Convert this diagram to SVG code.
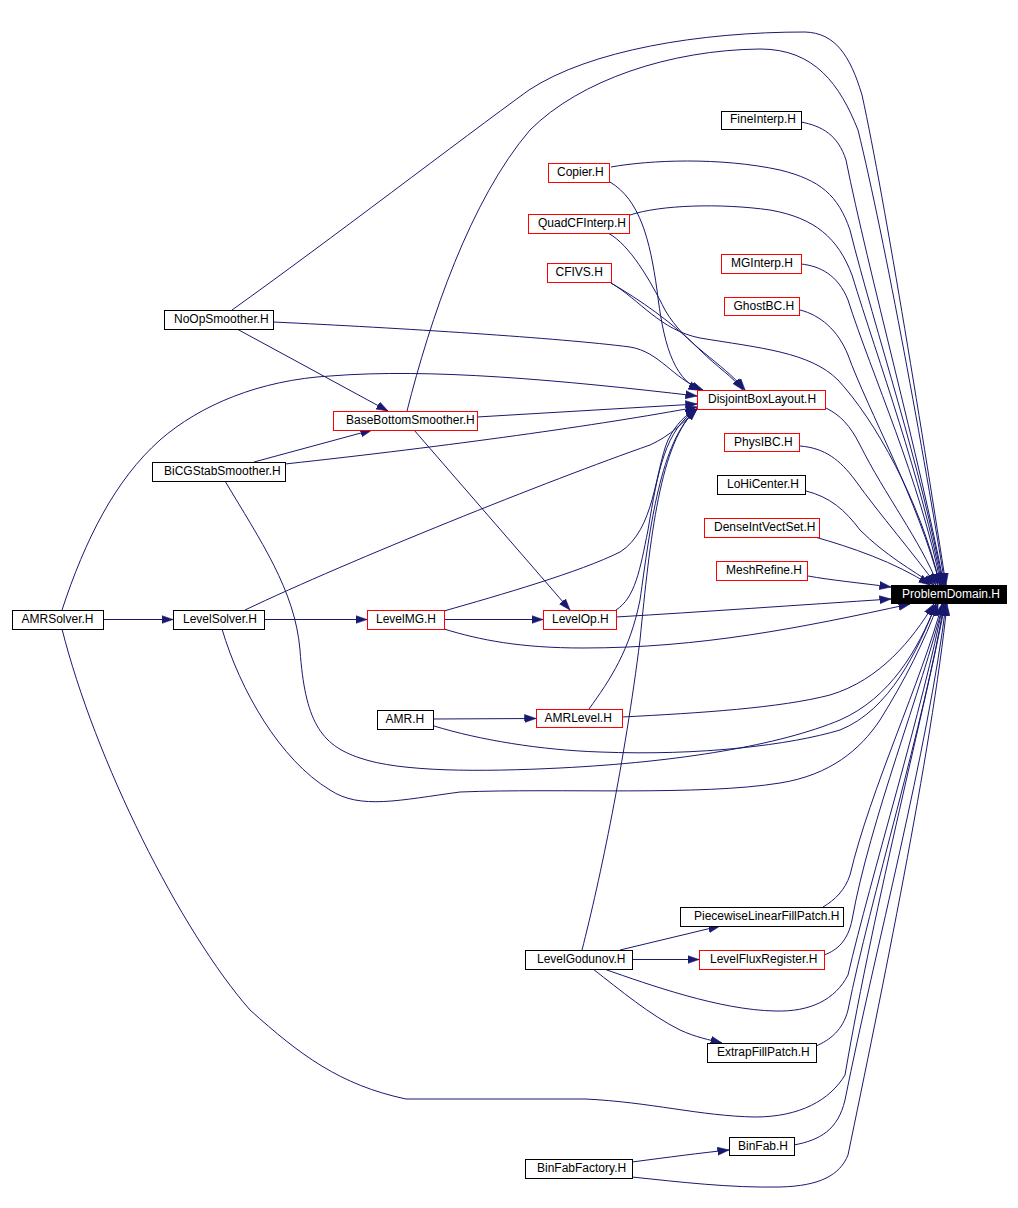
<svg xmlns="http://www.w3.org/2000/svg" width="1018" height="1208" viewBox="0 0 1018 1208">
<style>
.bg{fill:#ffffff}
.n rect{fill:#ffffff;stroke:#000000;stroke-width:1}
.n.r rect{stroke:#ff0000}
.n text{font-family:"Liberation Sans",Arial,sans-serif;font-size:12px;fill:#000000}
.n.root rect{fill:#000000;stroke:#000000}
.n.root text{fill:#ffffff}
.e path{fill:none;stroke:#191970;stroke-width:1;marker-end:url(#ah)}
</style>
<defs>
<marker id="ah" markerUnits="userSpaceOnUse" markerWidth="12" markerHeight="9" viewBox="0 0 12 9" refX="11.5" refY="4.5" orient="auto">
<path d="M0,0.5 L11.5,4.5 L0,8.5 z" fill="#191970" stroke="#191970" stroke-width="0.6"/>
</marker>
</defs>
<rect class="bg" x="0" y="0" width="1018" height="1208"/>
<g id="connectors" class="e">
<!-- to ProblemDomain.H -->
<path d="M232,310 C330,240 460,140 529,90 C590,50 700,32 805,32 C835,33 850,55 862,95 C885,200 925,450 946,585"/>
<path d="M407,411 C430,320 470,200 530,130 C580,80 670,50 760,49 C815,49 840,85 858,130 C885,240 925,460 945,585"/>
<path d="M801,122 C822,126 838,135 846,160 C868,270 920,460 944,585"/>
<path d="M611,167 C650,160 720,157 780,170 C820,180 838,195 850,230 C875,330 922,470 943,585"/>
<path d="M630,215 C660,205 720,203 770,210 C815,218 838,238 852,275 C878,360 922,480 942,585"/>
<path d="M801,264 C820,266 838,275 848,300 C872,375 920,480 941,585"/>
<path d="M611,283 C640,300 660,330 700,338 C760,348 810,352 838,380 C875,420 920,500 940,585"/>
<path d="M800,310 C820,315 838,330 848,355 C868,410 918,500 940,585"/>
<path d="M826,408 C840,415 850,425 860,445 C885,495 920,540 938,585"/>
<path d="M800,446 C825,448 840,460 855,480 C880,515 915,555 936,585"/>
<path d="M806,491 C830,497 845,510 860,530 C885,555 912,570 934,585"/>
<path d="M815,537 C850,547 895,562 930,585"/>
<path d="M808,576 C830,580 860,583 891,587"/>
<path d="M616,617 C700,612 800,605 891,599"/>
<path d="M444,629 C480,640 520,648 583,648 C700,648 800,628 910,604"/>
<path d="M622,717 C700,713 780,708 830,695 C880,680 912,640 934,604"/>
<path d="M434,726 C480,740 540,750 600,752 C700,756 790,745 840,730 C890,710 918,650 936,604"/>
<path d="M225,481 C260,540 295,590 300,650 C305,720 320,745 360,758 C400,772 480,772 560,768 C680,762 780,745 840,720 C890,698 918,650 936,604"/>
<path d="M222,629 C240,690 280,760 330,790 C360,810 400,800 460,792 C560,788 700,796 780,783 C830,775 860,750 880,720 C905,680 925,640 938,604"/>
<path d="M823,907 C835,900 845,890 850,875 C870,790 922,680 942,604"/>
<path d="M824,955 C838,950 848,940 852,920 C870,820 922,690 943,604"/>
<path d="M604,969 C650,985 720,1010 775,1011 C810,1012 835,1000 848,975 C870,880 925,700 943,604"/>
<path d="M816,1046 C830,1040 843,1030 848,1010 C870,900 925,720 944,604"/>
<path d="M62,629 C95,760 180,930 250,1010 C300,1055 340,1085 406,1099 L585,1099 C650,1102 700,1116 755,1117 C800,1117 830,1100 845,1075 C875,900 927,700 945,604"/>
<path d="M794,1145 C820,1140 838,1130 845,1100 C875,950 928,750 946,604"/>
<path d="M632,1177 C680,1182 730,1188 780,1187 C820,1186 840,1175 848,1155 C880,1000 932,750 947,604"/>
<!-- to DisjointBoxLayout.H -->
<path d="M273,322 C400,328 560,338 630,347 C660,352 672,378 703,390"/>
<path d="M610,182 C640,200 650,240 657,290 C663,340 672,378 700,390"/>
<path d="M608,233 C630,245 650,280 665,310 C685,345 722,362 745,390"/>
<path d="M611,283 C640,300 672,322 700,350 C718,368 732,376 743,390"/>
<path d="M62,610 C85,540 115,480 160,440 C200,405 260,380 330,376 C430,368 560,380 697,396"/>
<path d="M477,417 L697,404"/>
<path d="M285,464 C450,446 600,425 697,407"/>
<path d="M245,610 C350,560 550,480 650,445 C670,436 684,422 697,409"/>
<path d="M444,611 C500,595 580,572 620,552 C655,530 655,470 668,440 C676,424 686,414 697,409"/>
<path d="M616,610 C635,598 640,570 648,530 C658,470 665,430 697,409"/>
<path d="M589,709 C610,680 630,650 640,600 C650,530 660,440 697,409"/>
<path d="M582,950 C600,880 625,760 640,640 C650,540 660,440 697,409"/>
<!-- other -->
<path d="M237,329 L388,411"/>
<path d="M254,462 L372,430"/>
<path d="M414,430 L570,610"/>
<path d="M103,619.5 L173,619.5"/>
<path d="M264,619.5 L367,619.5"/>
<path d="M444,619.5 L543,619.5"/>
<path d="M434,719 L536,718.5"/>
<path d="M620,950 L720,926"/>
<path d="M632,959.5 L699,959.5"/>
<path d="M593,969 C620,990 650,1015 680,1030 C695,1037 710,1040 722,1043"/>
<path d="M632,1162 C670,1157 700,1153 729,1150"/>
</g>
<g id="FineInterp" class="n"><rect x="721.5" y="111.5" width="80" height="18"/><text x="730" y="123">FineInterp.H</text></g>
<g id="Copier" class="n r"><rect x="548.5" y="163.5" width="61" height="19"/><text x="557" y="176">Copier.H</text></g>
<g id="QuadCFInterp" class="n r"><rect x="528.5" y="214.5" width="101" height="19"/><text x="538" y="227">QuadCFInterp.H</text></g>
<g id="MGInterp" class="n r"><rect x="721.5" y="254.5" width="80" height="19"/><text x="731" y="267">MGInterp.H</text></g>
<g id="CFIVS" class="n r"><rect x="547.5" y="263.5" width="64" height="19"/><text x="555.5" y="276">CFIVS.H</text></g>
<g id="GhostBC" class="n r"><rect x="724.5" y="297.5" width="75" height="18"/><text x="733.5" y="310">GhostBC.H</text></g>
<g id="NoOpSmoother" class="n"><rect x="164.5" y="310.5" width="109" height="19"/><text x="174" y="323">NoOpSmoother.H</text></g>
<g id="DisjointBoxLayout" class="n r"><rect x="697.5" y="390.5" width="128" height="19"/><text x="708" y="403">DisjointBoxLayout.H</text></g>
<g id="BaseBottomSmoother" class="n r"><rect x="333.5" y="411.5" width="144" height="19"/><text x="346" y="424">BaseBottomSmoother.H</text></g>
<g id="PhysIBC" class="n r"><rect x="724.5" y="433.5" width="75" height="18"/><text x="734" y="446">PhysIBC.H</text></g>
<g id="BiCGStabSmoother" class="n"><rect x="152.5" y="462.5" width="133" height="19"/><text x="164" y="475">BiCGStabSmoother.H</text></g>
<g id="LoHiCenter" class="n"><rect x="717.5" y="475.5" width="88" height="19"/><text x="727" y="488">LoHiCenter.H</text></g>
<g id="DenseIntVectSet" class="n r"><rect x="704.5" y="518.5" width="115" height="19"/><text x="714" y="531">DenseIntVectSet.H</text></g>
<g id="MeshRefine" class="n r"><rect x="716.5" y="561.5" width="91" height="19"/><text x="726" y="574">MeshRefine.H</text></g>
<g id="ProblemDomain" class="n root"><rect x="891.5" y="585.5" width="115" height="18"/><text x="902" y="598">ProblemDomain.H</text></g>
<g id="AMRSolver" class="n"><rect x="12.5" y="610.5" width="91" height="19"/><text x="21.5" y="623">AMRSolver.H</text></g>
<g id="LevelSolver" class="n"><rect x="173.5" y="610.5" width="91" height="19"/><text x="183" y="623">LevelSolver.H</text></g>
<g id="LevelMG" class="n r"><rect x="367.5" y="610.5" width="77" height="19"/><text x="376" y="623">LevelMG.H</text></g>
<g id="LevelOp" class="n r"><rect x="543.5" y="610.5" width="73" height="19"/><text x="552" y="623">LevelOp.H</text></g>
<g id="AMR" class="n"><rect x="377.5" y="710.5" width="56" height="19"/><text x="385.5" y="723">AMR.H</text></g>
<g id="AMRLevel" class="n r"><rect x="536.5" y="709.5" width="86" height="18"/><text x="544.5" y="722">AMRLevel.H</text></g>
<g id="PiecewiseLinearFillPatch" class="n"><rect x="680.5" y="907.5" width="163" height="19"/><text x="694" y="920">PiecewiseLinearFillPatch.H</text></g>
<g id="LevelGodunov" class="n"><rect x="525.5" y="950.5" width="107" height="19"/><text x="537" y="963">LevelGodunov.H</text></g>
<g id="LevelFluxRegister" class="n r"><rect x="699.5" y="950.5" width="125" height="19"/><text x="710" y="963">LevelFluxRegister.H</text></g>
<g id="ExtrapFillPatch" class="n"><rect x="707.5" y="1043.5" width="109" height="19"/><text x="717" y="1056">ExtrapFillPatch.H</text></g>
<g id="BinFab" class="n"><rect x="729.5" y="1137.5" width="65" height="18"/><text x="738" y="1150">BinFab.H</text></g>
<g id="BinFabFactory" class="n"><rect x="525.5" y="1159.5" width="107" height="19"/><text x="537" y="1172">BinFabFactory.H</text></g>
</svg>
